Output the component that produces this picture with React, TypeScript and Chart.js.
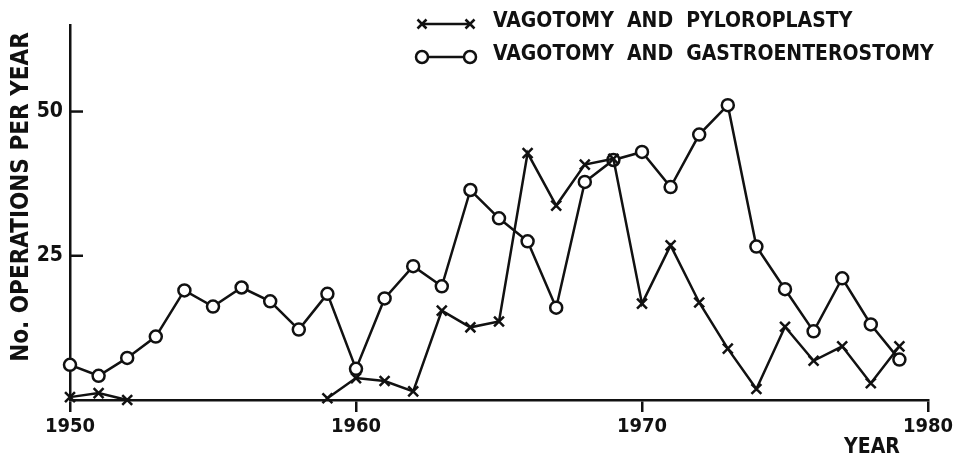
import React, { useEffect, useRef } from "react";
import { Chart, registerables } from "chart.js";

Chart.register(...registerables);

const years = [1950, 1951, 1952, 1953, 1954, 1955, 1956, 1957, 1958, 1959, 1960, 1961, 1962, 1963, 1964, 1965, 1966, 1967, 1968, 1969, 1970, 1971, 1972, 1973, 1974, 1975, 1976, 1977, 1978, 1979];
const gastroenterostomy = [6.1, 4.2, 7.3, 11.0, 19.0, 16.2, 19.5, 17.1, 12.2, 18.4, 5.4, 17.6, 23.2, 19.7, 36.4, 31.5, 27.5, 16.0, 37.8, 41.6, 43.0, 36.9, 46.0, 51.1, 26.6, 19.2, 11.9, 21.1, 13.1, 7.0];
const pyloroplasty = [0.5, 1.2, 0, null, null, null, null, null, null, 0.3, 3.8, 3.3, 1.5, 15.5, 12.6, 13.6, 42.8, 33.7, 40.8, 41.8, 16.7, 26.8, 16.9, 8.9, 1.9, 12.7, 6.8, 9.3, 2.9, 9.3];
const yTickValues = [25, 50];
const xTickValues = [1950, 1960, 1970, 1980];
const legendLabels = ["VAGOTOMY  AND  PYLOROPLASTY", "VAGOTOMY  AND  GASTROENTEROSTOMY"];
const yTitle = "No. OPERATIONS PER YEAR";
const xTitle = "YEAR";

const FONT = '"Liberation Sans Narrow", "DejaVu Sans Condensed", "Liberation Sans", sans-serif';
const INK = "#111";

const drawCross = (ctx: CanvasRenderingContext2D, x: number, y: number, r: number) => {
  ctx.beginPath();
  ctx.moveTo(x - r, y - r);
  ctx.lineTo(x + r, y + r);
  ctx.moveTo(x + r, y - r);
  ctx.lineTo(x - r, y + r);
  ctx.stroke();
};

const decorPlugin = {
  id: "decor",
  afterDraw(chart: any) {
    const ctx: CanvasRenderingContext2D = chart.ctx;
    const ys = chart.scales.y;
    const left = chart.chartArea.left;
    ctx.save();
    ctx.strokeStyle = INK;
    ctx.fillStyle = INK;
    ctx.lineWidth = 2.5;
    // inward y ticks
    yTickValues.forEach((v) => {
      const py = ys.getPixelForValue(v);
      ctx.beginPath();
      ctx.moveTo(left, py);
      ctx.lineTo(left + 13, py);
      ctx.stroke();
    });
    // legend
    const lx1 = 422, lx2 = 470;
    const ly = [24, 57];
    ctx.beginPath();
    ctx.moveTo(lx1, ly[0]);
    ctx.lineTo(lx2, ly[0]);
    ctx.stroke();
    drawCross(ctx, lx1, ly[0], 4.5);
    drawCross(ctx, lx2, ly[0], 4.5);
    ctx.beginPath();
    ctx.moveTo(lx1, ly[1]);
    ctx.lineTo(lx2, ly[1]);
    ctx.stroke();
    [lx1, lx2].forEach((cx) => {
      ctx.beginPath();
      ctx.arc(cx, ly[1], 6, 0, Math.PI * 2);
      ctx.fillStyle = "#fff";
      ctx.fill();
      ctx.stroke();
    });
    ctx.fillStyle = INK;
    ctx.font = `bold 21px ${FONT}`;
    ctx.textBaseline = "middle";
    ctx.textAlign = "left";
    ctx.fillText(legendLabels[0], 493, 22);
    ctx.fillText(legendLabels[1], 493, 55);
    // x title
    ctx.textAlign = "center";
    ctx.fillText(xTitle, 872, 448);
    // y title
    ctx.save();
    ctx.translate(22, 197);
    ctx.rotate(-Math.PI / 2);
    ctx.font = `bold 24px ${FONT}`;
    ctx.fillText(yTitle, 0, 0);
    ctx.restore();
    ctx.restore();
  },
};

export default function App() {
  const ref = useRef<HTMLCanvasElement>(null);
  useEffect(() => {
    if (!ref.current) return;
    const chart = new Chart(ref.current, {
      type: "line",
      data: {
        datasets: [
          {
            label: legendLabels[0],
            data: years.map((x, i) => ({ x, y: pyloroplasty[i] })),
            borderColor: INK,
            borderWidth: 2.5,
            pointStyle: "crossRot",
            pointRadius: 7,
            pointBorderWidth: 2.5,
            pointBorderColor: INK,
            spanGaps: false,
            clip: false,
            tension: 0,
          },
          {
            label: legendLabels[1],
            data: years.map((x, i) => ({ x, y: gastroenterostomy[i] })),
            borderColor: INK,
            borderWidth: 2.5,
            pointStyle: "circle",
            pointRadius: 6,
            pointBorderWidth: 2.5,
            pointBorderColor: INK,
            pointBackgroundColor: "#fff",
            clip: false,
            tension: 0,
          },
        ],
      } as any,
      options: {
        animation: false,
        responsive: false,
        maintainAspectRatio: false,
        layout: { padding: { left: 0, top: 25, right: 32, bottom: 0 } },
        plugins: { legend: { display: false }, tooltip: { enabled: false } },
        scales: {
          x: {
            type: "linear",
            min: 1950,
            max: 1980,
            afterFit: (s: any) => { s.height = 63; },
            afterBuildTicks: (s: any) => { s.ticks = xTickValues.map((value) => ({ value })); },
            grid: { drawOnChartArea: false, drawTicks: true, tickLength: 12, color: INK, lineWidth: 2.5 },
            border: { display: true, color: INK, width: 2.5 },
            ticks: { color: INK, font: { family: FONT, size: 20, weight: "bold" }, padding: 3, maxRotation: 0, autoSkip: false, callback: (v: any) => String(v) },
          },
          y: {
            type: "linear",
            min: 0,
            max: 65,
            afterFit: (s: any) => { s.width = 70; },
            afterBuildTicks: (s: any) => { s.ticks = yTickValues.map((value) => ({ value })); },
            grid: { drawOnChartArea: false, drawTicks: false },
            border: { display: true, color: INK, width: 2.5 },
            ticks: { color: INK, font: { family: FONT, size: 21, weight: "bold" }, padding: 7, callback: (v: any) => String(v) },
          },
        },
      } as any,
      plugins: [decorPlugin],
    });
    return () => chart.destroy();
  }, []);
  return (
    <div style={{ position: "fixed", left: 0, top: 0, width: 960, height: 463, background: "#fff" }}>
      <canvas ref={ref} width={960} height={463} style={{ width: 960, height: 463 }} />
    </div>
  );
}
